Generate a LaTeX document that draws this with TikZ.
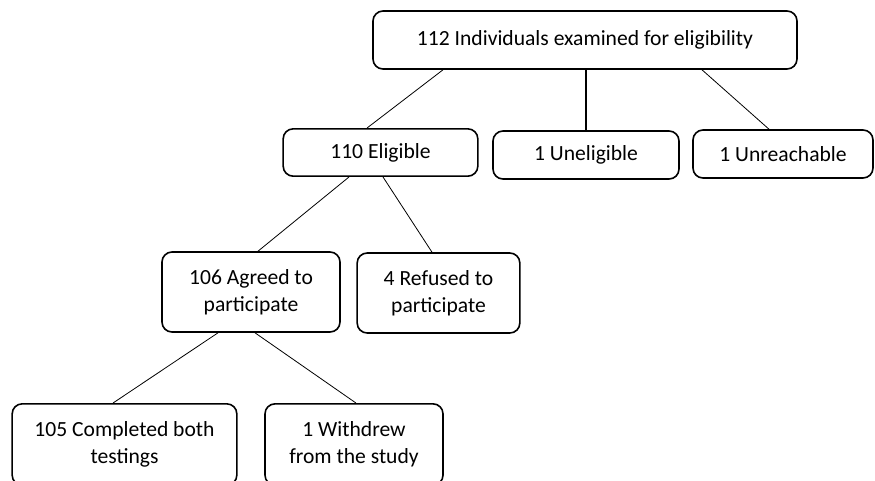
\documentclass[tikz,border=0pt]{standalone}
\usepackage{fontspec}
\setmainfont{Carlito}
\usetikzlibrary{calc}

\begin{document}
\begin{tikzpicture}[x=0.75pt, y=-0.75pt,
		box/.style={draw, line width=1.2pt, rounded corners=7.5pt, inner sep=0pt, align=center,
			font=\fontsize{16.2}{20.5}\selectfont},
		link/.style={line width=0.6pt}]
		%%%%% START %%%%%
		
		\useasboundingbox (0, 0) rectangle (875, 480);
		
		\node[box, minimum width=318pt, minimum height=43.5pt] (top) at (585, 40) {112 Individuals examined for eligibility};
		
		\node[box, minimum width=146pt, minimum height=35.5pt] (elig) at (380.5, 152.5) {110 Eligible};
		\node[box, minimum width=139.5pt, minimum height=36pt] (unelig) at (586, 155) {1 Uneligible};
		\node[box, minimum width=135pt, minimum height=36pt] (unreach) at (783, 154) {1 Unreachable};
		
		\node[box, minimum width=133.5pt, minimum height=60pt] (agreed) at (251, 292) {106 Agreed to\\participate};
		\node[box, minimum width=122pt, minimum height=60pt] (refused) at (438.5, 293) {4 Refused to\\participate};
		
		\node[box, minimum width=168.5pt, minimum height=61pt] (completed) at (124.5, 444.5) {105 Completed both\\testings};
		\node[box, minimum width=133.5pt, minimum height=61pt] (withdrew) at (354, 444.5) {1 Withdrew\\from the study};
		
		\draw[link] ($(top.south)+(-142, 0)$) -- ($(elig.north)+(-13.5, 0)$);
		\draw[line width=1.1pt] (unelig.north) -- (unelig.north |- top.south);
		\draw[link] ($(top.south)+(117, 0)$) -- ($(unreach.north)+(-14, 0)$);
		
		\draw[link] ($(elig.south)+(-31.5, 0)$) -- ($(agreed.north)+(7, 0)$);
		\draw[link] ($(elig.south)+(2.5, 0)$) -- ($(refused.north)+(-6.5, 0)$);
		
		\draw[link] ($(agreed.south)+(-33, 0)$) -- ($(completed.north)+(-11.5, 0)$);
		\draw[link] ($(agreed.south)+(4, 0)$) -- ($(withdrew.north)+(2, 0)$);
		
		%%%%% END %%%%%
\end{tikzpicture}
\end{document}
